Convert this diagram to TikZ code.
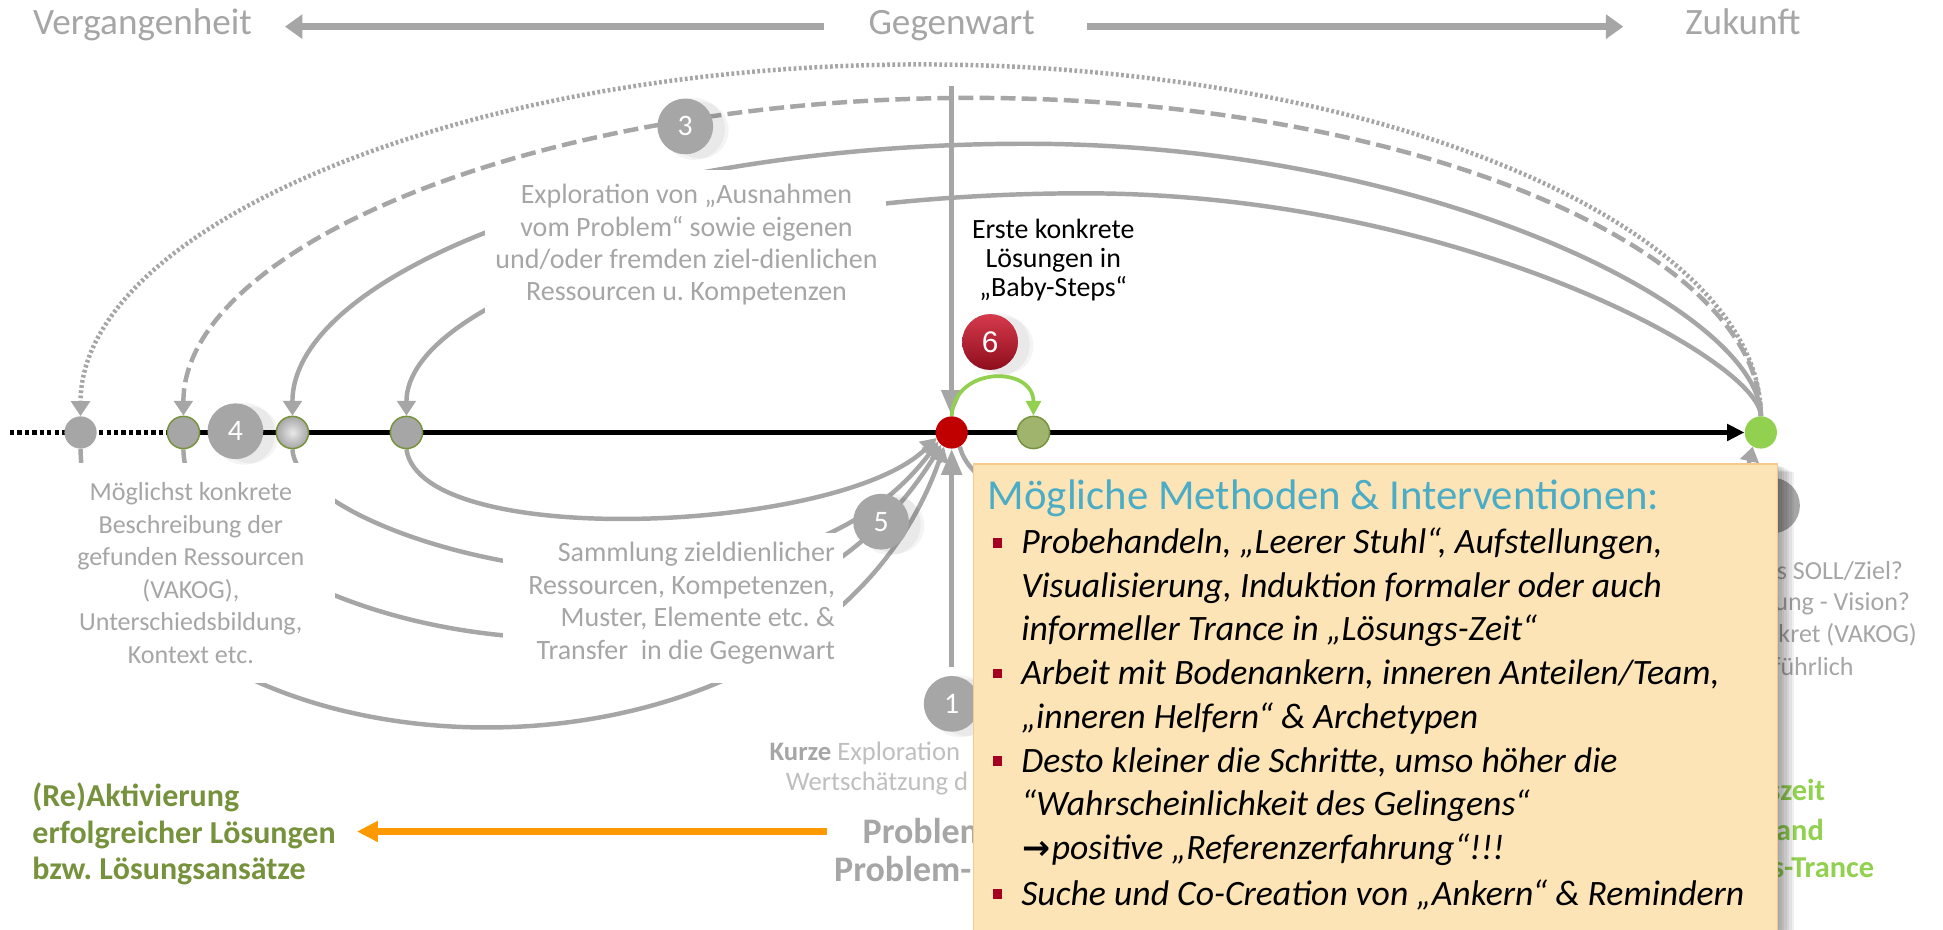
\documentclass[tikz,border=0pt]{standalone}
\usepackage{fontspec}
\setmainfont{Carlito}
\newfontfamily\arrowfont{DejaVu Sans}
\newfontfamily\arialfont{Liberation Sans}
\usetikzlibrary{arrows.meta}
\definecolor{lgrey}{HTML}{A6A6A6}
\definecolor{llgrey}{HTML}{BFBFBF}
\definecolor{olivegreen}{HTML}{76923C}
\definecolor{olivedark}{HTML}{77933C}
\definecolor{olivedot}{HTML}{A0B46E}
\definecolor{brightgreen}{HTML}{92D050}
\definecolor{darkred}{HTML}{C00000}
\definecolor{redlight}{HTML}{D63A4C}
\definecolor{reddark}{HTML}{8E0E1C}
\definecolor{boxfill}{HTML}{FCE4B6}
\definecolor{boxline}{HTML}{F8C98C}
\definecolor{titleteal}{HTML}{4BACC6}
\definecolor{bulletred}{HTML}{A50021}
\definecolor{orangearrow}{HTML}{FF9900}
\pgfdeclarelayer{bg}
\pgfdeclarelayer{arcs}
\pgfdeclarelayer{masks}
\pgfdeclarelayer{front}
\pgfsetlayers{bg,arcs,masks,main,front}
\frenchspacing
\begin{document}
\begin{tikzpicture}[x=1pt,y=-1pt,
  conn/.style={draw=lgrey,line width=3.6pt},
  gtip/.style={-{Triangle[length=12pt,width=15pt]}},
  vtip/.style={-{Triangle[length=21pt,width=16pt]}},
  dotn/.style={circle,minimum size=26pt,inner sep=0pt},
  badge/.style={circle,fill=lgrey,minimum size=45pt,inner sep=0pt,text=white,font=\fontsize{24}{24}\selectfont},
  bshadow/.style={black,opacity=0.045},
  lbl/.style={text=lgrey,font=\fontsize{21}{26.3}\selectfont,inner sep=0pt},
  toplbl/.style={text=lgrey,font=\fontsize{30}{30}\selectfont,inner sep=0pt,anchor=base},
  grn/.style={text=brightgreen,font=\fontsize{24.5}{29.5}\selectfont\bfseries,inner sep=0pt,anchor=base east},
  bline/.style={anchor=base west,inner sep=0pt,font=\fontsize{28.8}{28.8}\selectfont\itshape},
  bul/.style={fill=bulletred,minimum size=8pt,inner sep=0pt}
]
\useasboundingbox (0,0) rectangle (1568,750);
\begin{pgfonlayer}{bg}
\fill[white] (0,0) rectangle (1568,750);
\end{pgfonlayer}

% ---------- top labels ----------
\node[toplbl] (past) at (115,28) {Vergangenheit};
\node[toplbl] (now) at (768,28) {Gegenwart};
\node[toplbl] (fut) at (1406.5,28) {Zukunft};
\coordinate (ta1) at (665,21.5);
\coordinate (ta2) at (230,21.5);
\coordinate (ta3) at (877,21.5);
\coordinate (ta4) at (1310,21.5);
\draw[lgrey,line width=6pt,-{Triangle[length=14pt,width=19pt]}] (ta1) -- (ta2);
\draw[lgrey,line width=6pt,-{Triangle[length=14pt,width=19pt]}] (ta3) -- (ta4);

% ---------- dots ----------
\node[dotn,fill=lgrey] (d65) at (65,349) {};
\node[dotn,fill=lgrey,draw=olivedark,line width=1.2pt] (d148) at (148,349) {};
\node[dotn,inner color=white!75!lgrey,outer color=lgrey,draw=olivedark,line width=1.2pt] (d235) at (236,349) {};
\node[dotn,fill=lgrey,draw=olivedark,line width=1.2pt] (d328) at (328,349) {};
\node[dotn,fill=darkred] (red) at (768,349) {};
\node[dotn,fill=olivedot,draw=olivedark,line width=1.2pt] (olive) at (834,349) {};
\node[dotn,fill=brightgreen] (green) at (1421,349) {};

% ---------- badges ----------
\node[badge] (b4) at (190,348) {4};
\node[badge] (b3) at (553,102) {3};
\node[badge] (b5) at (711,421) {5};
\node[badge] (b1) at (768,568) {1};
\node[badge] (b2) at (1430,408) {2};
\node[badge,top color=redlight,bottom color=reddark,font=\arialfont\fontsize{24}{24}\selectfont] (b6) at (799,276) {6};

\coordinate (tl0) at (8,349);
\coordinate (vtop) at (768,69);
\coordinate (oa1) at (667,671);
\coordinate (oa2) at (288,671);

\begin{pgfonlayer}{arcs}
% timeline
\draw[black,line width=3.5pt,dash pattern=on 3.5pt off 2.5pt] (tl0) -- (d65.center) -- (d148.center);
\draw[black,line width=3.5pt,-{Triangle[length=14pt,width=13pt]}] (d148.center) -- (green.west);
% upper arcs (future -> past)
\draw[conn,line width=3.6pt,dash pattern=on 2.2pt off 2pt,gtip]
  (green.north) .. controls (1421,185) and (1117,52) .. (743,52)
  .. controls (369,52) and (65,185) .. (d65.north);
\draw[conn,dash pattern=on 12pt off 5pt,gtip]
  (green.north) .. controls (1421,200) and (1136,79) .. (784.5,79)
  .. controls (433,79) and (148,200) .. (d148.north);
\draw[conn,gtip]
  (green.north) .. controls (1421,251) and (1155,116) .. (828,116)
  .. controls (501,116) and (236,220) .. (d235.north);
\draw[conn,gtip]
  (green.north) .. controls (1421,291) and (1176,156) .. (874.5,156)
  .. controls (573,156) and (328,242) .. (d328.north);
% lower arcs (past -> present)
\draw[conn,gtip] (d328.south) .. controls (340,445) and (680,430) .. (red.-160);
\draw[conn,gtip] (d235.south) .. controls (240,440) and (620,540) .. (red.-145);
\draw[conn,gtip] (d148.south) .. controls (150,500) and (600,620) .. (red.-130);
\draw[conn,gtip] (d65.south) .. controls (70,640) and (650,680) .. (red.-118);
% present -> future (mostly hidden)
\draw[conn,gtip] (red.-60) .. controls (800,470) and (1390,470) .. (green.-120);
% vertical arrows
\draw[conn,line width=4.5pt,vtip] (vtop) -- (red.north);
\draw[conn,line width=4.5pt,vtip] ([yshift=7pt]b1.north) -- (red.south);
% baby step
\draw[brightgreen,line width=3pt,-{Triangle[length=12pt,width=12pt]}]
  (red.north) .. controls (770,295) and (834,295) .. (olive.north);
% orange arrow
\draw[orangearrow,line width=5.5pt,-{Triangle[length=17pt,width=16pt]}] (oa1) -- (oa2);
\end{pgfonlayer}

\begin{pgfonlayer}{masks}
\fill[white] (391,137) rectangle (715,255);
\fill[white] (40,374) rectangle (270,551);
\fill[white] (406,430) rectangle (680,551);
% soft badge shadows
\foreach \b in {b3,b4,b5,b6,b1} {
  \fill[bshadow] ([xshift=7pt,yshift=-2pt]\b.center) circle (25pt);
  \fill[bshadow] ([xshift=12pt,yshift=-3pt]\b.center) circle (23pt);
}
\end{pgfonlayer}

% ---------- grey labels (anchor = baseline of last line) ----------
\node[lbl,align=center,anchor=base,font=\fontsize{22.6}{26}\selectfont] (expl) at (554,242.6)
  {Exploration von „Ausnahmen\\vom Problem“ sowie eigenen\\und/oder fremden ziel-dienlichen\\Ressourcen u. Kompetenzen};
\node[lbl,align=center,anchor=base,text=black,font=\fontsize{22.5}{23.5}\selectfont] (erste) at (850,239.5)
  {Erste konkrete\\Lösungen in\\„Baby-Steps“};
\node[lbl,align=center,anchor=base] (moegl) at (154,535.4)
  {Möglichst konkrete\\Beschreibung der\\gefunden Ressourcen\\(VAKOG),\\Unterschiedsbildung,\\Kontext etc.};
\node[lbl,align=right,anchor=base east,font=\fontsize{22.6}{26.2}\selectfont] (samml) at (674,532)
  {Sammlung zieldienlicher\\Ressourcen, Kompetenzen,\\Muster, Elemente etc. \&\\Transfer\ \ in die Gegenwart};
\node[lbl,anchor=base east,font=\fontsize{21.5}{26}\selectfont] (kurze) at (775,613.4)
  {\textbf{Kurze} \textcolor{llgrey}{Exploration}};
\node[lbl,anchor=base west,text=llgrey,font=\fontsize{21.5}{26}\selectfont] (wert) at (634,637.6) {Wertschätzung d};
\node[anchor=base west,inner sep=0pt,text=lgrey,font=\fontsize{29}{35}\selectfont\bfseries] (prob1) at (696,680.6) {Problem};
\node[anchor=base west,inner sep=0pt,text=lgrey,font=\fontsize{29}{35}\selectfont\bfseries] (prob2) at (673,711.6) {Problem-};
\node[anchor=base west,inner sep=0pt,align=left,text=olivegreen,font=\fontsize{25.8}{29.5}\selectfont\bfseries] (gleft) at (26,710)
  {(Re)Aktivierung\\erfolgreicher Lösungen\\bzw. Lösungsansätze};
\node[lbl,anchor=base east] (rg1) at (1536,467.8) {s SOLL/Ziel?};
\node[lbl,anchor=base east] (rg2) at (1541.6,493) {ung - Vision?};
\node[lbl,anchor=base east] (rg3) at (1547,518.7) {kret (VAKOG)};
\node[lbl,anchor=base east] (rg4) at (1496,545.5) {führlich};
\node[grn] (gr1) at (1473,645.7) {szeit};
\node[grn] (gr2) at (1472,678) {and};
\node[grn] (gr3) at (1512.6,708) {s-Trance};

% ---------- methods box ----------
\begin{pgfonlayer}{front}
\foreach \s in {2,4,...,14}
  \fill[black,opacity=0.06] (785+\s,374+0.5*\s) rectangle (1434+\s,760);
\node[draw=boxline,fill=boxfill,line width=1pt,anchor=north west,inner sep=0pt,minimum width=649pt,minimum height=390pt] (box) at (785,374) {};
\node[anchor=base west,inner sep=0pt,text=titleteal,font=\fontsize{34.5}{34.5}\selectfont] (title) at (797,411) {Mögliche Methoden \& Interventionen:};
\node[bline] (t1) at (824,447) {Probehandeln, „Leerer Stuhl“, Aufstellungen,};
\node[bline] (t2) at (824,482) {Visualisierung, Induktion formaler oder auch};
\node[bline] (t3) at (824,517) {informeller Trance in „Lösungs-Zeit“};
\node[bline] (t4) at (824,552.5) {Arbeit mit Bodenankern, inneren Anteilen/Team,};
\node[bline] (t5) at (824,587.6) {„inneren Helfern“ \& Archetypen};
\node[bline] (t6) at (824,623) {Desto kleiner die Schritte, umso höher die};
\node[bline] (t7) at (824,658.5) {“Wahrscheinlichkeit des Gelingens“};
\node[bline] (t8) at (825,694) {{\upshape\arrowfont\bfseries\fontsize{27}{27}\selectfont →}\kern1pt positive „Referenzerfahrung“!!!};
\node[bline] (t9) at (824,730.7) {Suche und Co-Creation von „Ankern“ \& Remindern};
\node[bul] (q1) at (805,438) {};
\node[bul] (q2) at (805,543.5) {};
\node[bul] (q3) at (805,614) {};
\node[bul] (q4) at (805,721.7) {};
\end{pgfonlayer}
\end{tikzpicture}
\end{document}
